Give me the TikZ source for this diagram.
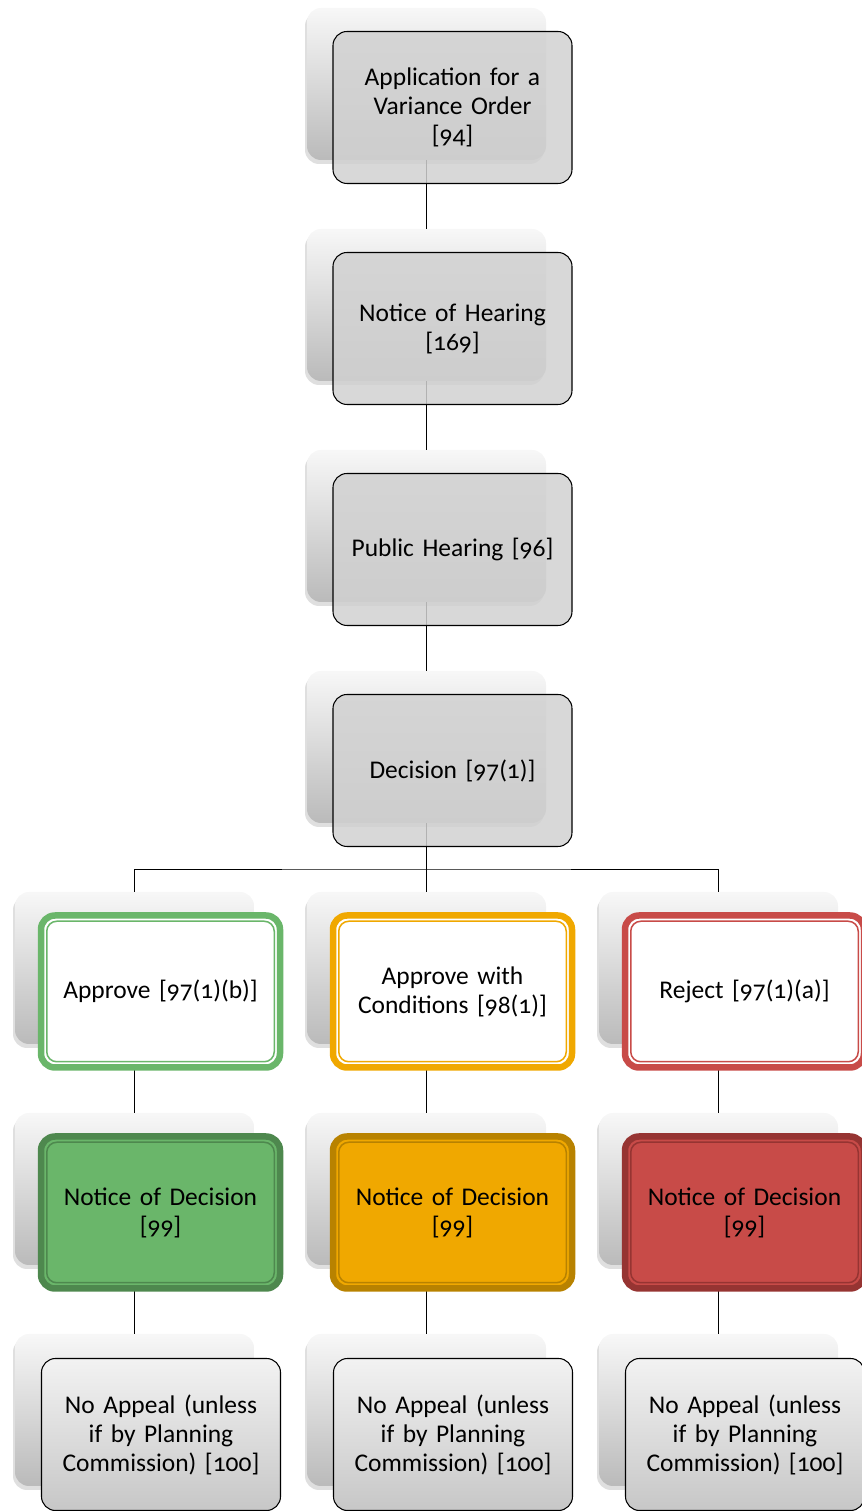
\documentclass[tikz,border=0pt]{standalone}
\usepackage{fontspec}
\setmainfont{Carlito}[Numbers=OldStyle, WordSpace=0.75]
\usetikzlibrary{positioning,shadows}
\definecolor{okgreen}{RGB}{106,182,106}
\definecolor{okgreendark}{RGB}{78,136,78}
\definecolor{condorange}{RGB}{240,168,0}
\definecolor{condorangedark}{RGB}{184,130,0}
\definecolor{nored}{RGB}{200,75,72}
\definecolor{noreddark}{RGB}{150,52,50}
\tikzset{
  back/.style={rectangle, rounded corners=0.28cm, minimum width=4.78cm, minimum height=3.04cm,
    top color=black!3, bottom color=black!27,
    drop shadow={shadow xshift=-0.04cm, shadow yshift=-0.08cm, opacity=0.25}},
  front/.style={draw, line width=0.6pt, rectangle, rounded corners=0.28cm, minimum width=4.78cm,
    minimum height=3.04cm, text width=4.5cm, align=center, font=\fontsize{14.5pt}{16.5pt}\selectfont},
  greybox/.style={front, fill=black!18, fill opacity=0.85, text opacity=1},
  lastbox/.style={front, top color=black!5, bottom color=black!22},
  ringbox/.style 2 args={front, draw=#1, line width=0.13cm, fill=#2,
    path picture={\draw[#1, line width=0.03cm, rounded corners=0.2cm]
      ([shift={(0.115,-0.115)}]path picture bounding box.north west) rectangle
      ([shift={(-0.115,0.115)}]path picture bounding box.south east);}},
}
\begin{document}
\begin{tikzpicture}
  \useasboundingbox (0,0) rectangle (17.22,30.22);
  % back boxes
  \node[back] (s0) at (8.53,28.54) {};
  \node[back, below of=s0, node distance=4.42cm] (s1) {};
  \node[back, below of=s1, node distance=4.42cm] (s2) {};
  \node[back, below of=s2, node distance=4.42cm] (s3) {};
  \node[back, below of=s3, node distance=4.42cm] (s4) {};
  \node[back, left of=s4, node distance=5.84cm] (s4l) {};
  \node[back, right of=s4, node distance=5.84cm] (s4r) {};
  \node[back, below of=s4, node distance=4.42cm] (s5) {};
  \node[back, below of=s4l, node distance=4.42cm] (s5l) {};
  \node[back, below of=s4r, node distance=4.42cm] (s5r) {};
  \node[back, below of=s5, node distance=4.42cm] (s6) {};
  \node[back, below of=s5l, node distance=4.42cm] (s6l) {};
  \node[back, below of=s5r, node distance=4.42cm] (s6r) {};
  \coordinate[below of=s3, node distance=2.44cm] (aux1);
  % lines
  \draw (s0.south) -- (s1.north);
  \draw (s1.south) -- (s2.north);
  \draw (s2.south) -- (s3.north);
  \draw (s3.south) -- (aux1) -- (s4.north);
  \draw (s4l.north) |- (aux1) -| (s4r.north);
  \draw (s4l.south) -- (s5l.north);
  \draw (s4.south) -- (s5.north);
  \draw (s4r.south) -- (s5r.north);
  \draw (s5l.south) -- (s6l.north);
  \draw (s5.south) -- (s6.north);
  \draw (s5r.south) -- (s6r.north);
  % front boxes
  \node[greybox] (n0) at ([shift={(0.52,-0.47)}]s0) {Application for a\\ Variance Order\\{}[94]};
  \node[greybox] (n1) at ([shift={(0.52,-0.47)}]s1) {Notice of Hearing\\{}[169]};
  \node[greybox] (n2) at ([shift={(0.52,-0.47)}]s2) {Public Hearing [96]};
  \node[greybox] (n3) at ([shift={(0.52,-0.47)}]s3) {Decision [97(1)]};
  \node[ringbox={okgreen}{white}] (n4l) at ([shift={(0.52,-0.47)}]s4l) {Approve [97(1)(b)]};
  \node[ringbox={condorange}{white}] (n4) at ([shift={(0.52,-0.47)}]s4) {Approve with\\ Conditions [98(1)]};
  \node[ringbox={nored}{white}] (n4r) at ([shift={(0.52,-0.47)}]s4r) {Reject [97(1)(a)]};
  \node[ringbox={okgreendark}{okgreen}] (n5l) at ([shift={(0.52,-0.47)}]s5l) {Notice of Decision\\{}[99]};
  \node[ringbox={condorangedark}{condorange}] (n5) at ([shift={(0.52,-0.47)}]s5) {Notice of Decision\\{}[99]};
  \node[ringbox={noreddark}{nored}] (n5r) at ([shift={(0.52,-0.47)}]s5r) {Notice of Decision\\{}[99]};
  \node[lastbox] (n6l) at ([shift={(0.53,-0.49)}]s6l) {No Appeal (unless\\ if by Planning\\ Commission) [100]};
  \node[lastbox] (n6) at ([shift={(0.53,-0.49)}]s6) {No Appeal (unless\\ if by Planning\\ Commission) [100]};
  \node[lastbox] (n6r) at ([shift={(0.53,-0.49)}]s6r) {No Appeal (unless\\ if by Planning\\ Commission) [100]};
\end{tikzpicture}
\end{document}
